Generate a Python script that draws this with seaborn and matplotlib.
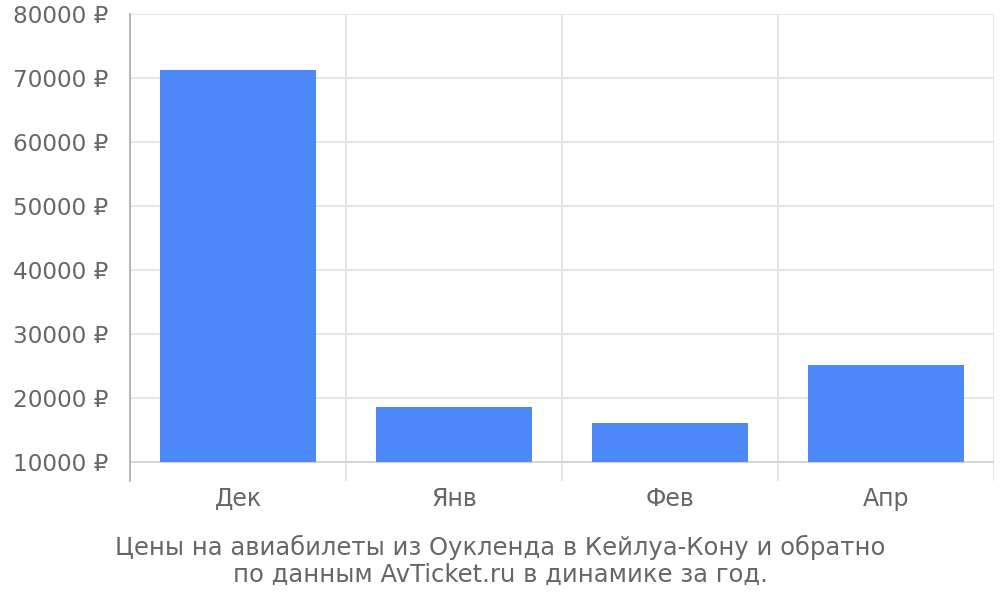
import matplotlib
matplotlib.use("Agg")
import matplotlib.pyplot as plt
import seaborn as sns
import pandas as pd
import numpy as np

# data
months = ["Дек", "Янв", "Фев", "Апр"]
prices = [71300, 18600, 16150, 25150]
y_ticks = [10000, 20000, 30000, 40000, 50000, 60000, 70000, 80000]
title_lines = ["Цены на авиабилеты из Оукленда в Кейлуа-Кону и обратно",
               "по данным AvTicket.ru в динамике за год."]

base = 10000  # bars start from the lowest gridline
df = pd.DataFrame({"month": months, "price": prices})
df["height"] = df["price"] - base

sns.set_style("white")
plt.rcParams["font.family"] = ["DejaVu Sans"]

fig = plt.figure(figsize=(10, 6), dpi=100)
ax = fig.add_axes([0.13, 0.1983, 0.864, 0.7784])

sns.barplot(data=df, x="month", y="height", bottom=base, color="#4d89f9",
            saturation=1, width=0.72, linewidth=0, ax=ax, zorder=3)

ax.set_xlim(-0.5, len(months) - 0.5)
ax.set_ylim(7031, 80000)
ax.set_yticks(y_ticks)
ax.set_yticklabels([f"{v} ₽" for v in y_ticks])
ax.set_xlabel("")
ax.set_ylabel("")

# horizontal grid with ticks reaching out to the left
ax.yaxis.grid(True, color="#e2e2e2", linewidth=1.2, zorder=0)
ax.tick_params(axis="y", length=14.4, width=1.2, color="#e2e2e2",
               labelsize=16.7, labelcolor="#666666", pad=1.5)
ax.get_ygridlines()[0].set_color("#cccccc")

# vertical grid at category boundaries
ax.set_xticks(np.arange(-0.5, len(months), 1.0), minor=True)
ax.xaxis.grid(True, which="minor", color="#e0e0e0", linewidth=1.2, zorder=0)
ax.tick_params(axis="x", which="minor", length=0)
ax.tick_params(axis="x", which="major", length=0, labelsize=17,
               labelcolor="#666666", pad=4)
ax.set_axisbelow(True)

for side in ["top", "right", "bottom"]:
    ax.spines[side].set_visible(False)
ax.spines["left"].set_color("#aaaaaa")
ax.spines["left"].set_linewidth(1.2)

fig.text(0.5, 1 - 547 / 600, title_lines[0], ha="center", va="center",
         fontsize=17.5, color="#666666")
fig.text(0.5, 1 - 575 / 600, title_lines[1], ha="center", va="center",
         fontsize=17.5, color="#666666")

fig.savefig("out.png", dpi=100)
